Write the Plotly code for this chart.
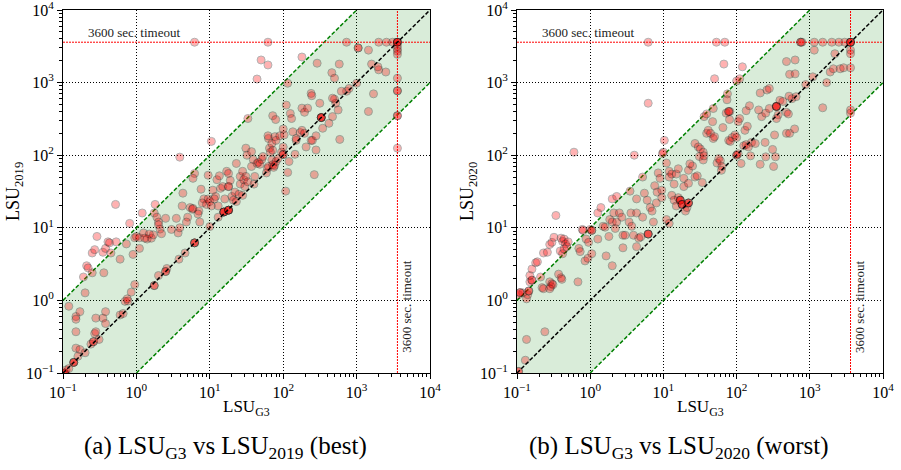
import plotly.graph_objects as go

# ---------------- data (seconds) ----------------
# Panel (a): LSU_G3 runtime vs LSU_2019 runtime
g3_a = [
    0.105, 0.105, 0.105, 0.11, 0.12, 0.14, 0.14, 0.14, 0.12, 0.15, 0.15, 0.17, 0.15, 0.15, 0.17, 0.16,
    0.2, 0.24, 0.26, 0.26, 0.27, 0.28, 0.31, 0.28, 0.35, 0.38, 0.38, 0.6, 0.7, 0.77, 0.95, 0.85,
    0.2, 0.19, 0.21, 0.22, 0.25, 0.25, 0.27, 0.29, 0.36, 0.35, 0.38, 0.41, 0.43, 0.45, 0.53, 0.6,
    0.73, 0.81, 0.9, 0.95, 1.0, 0.52, 0.75, 0.66,
    1.1, 1.25, 1.4, 1.6, 1.7, 1.5, 1.3, 1.2, 1.1, 1.75, 1.9, 2.0, 2.1, 2.0, 2.5, 1.75, 1.75, 2.0, 2.6, 2.5,
    2.5, 3.0, 3.5, 3.7, 3.9, 3.8, 3.9, 4.3, 4.6, 4.2,
    5, 4.8, 5.4, 5.8, 5.9, 6.2, 5.9, 6.2, 6.2, 6.2, 7.1, 6.9, 7.3, 7.6, 8.3, 7.9, 9, 9.5, 10, 10.5,
    9.5, 10, 10.5, 1.8, 2.2,
    11, 12, 11.5, 13, 12.5, 13.5, 14, 15, 15.5, 15.5, 15.5, 15.5, 18, 18, 18, 18, 16, 17, 18, 18,
    18, 19, 20, 21, 22, 23, 25, 26, 26, 28,
    29, 31, 30, 33, 31, 32, 33, 37, 39, 37, 41, 44, 46, 48, 51, 53, 59, 61, 63, 65,
    67, 70, 72, 74, 76, 63, 70, 62, 72, 77,
    80, 90, 80, 85, 95, 100, 100, 100, 103, 100, 72, 79, 110, 108, 115, 13, 23, 28, 40,
    120, 125, 130, 145, 150, 135, 150, 180, 170, 180, 195, 205, 195, 215, 240, 250, 265, 280, 280, 240,
    245, 315, 330, 330, 330, 330, 345, 420, 470, 500,
    520, 560, 590, 730, 620, 790, 115, 180, 290, 44, 50, 62, 460, 500, 580, 470,
    1050, 1050, 1450, 1600, 2000, 2500, 1950, 1700, 1450, 1000, 6.2, 62, 730, 2000, 2550, 3100,
    3600, 3600, 3600, 3600, 3600, 3600, 3600, 3600, 3600, 3600, 3600, 3600, 3600, 3600,
]
lsu2019 = [
    0.1, 0.1, 0.1, 0.11, 0.115, 0.14, 0.14, 0.14, 0.83, 0.6, 0.55, 0.7, 0.37, 0.22, 0.21, 0.17,
    0.19, 0.25, 0.27, 0.27, 0.35, 0.37, 0.29, 0.57, 0.57, 0.7, 0.48, 0.63, 0.97, 0.98, 1.65, 1.3,
    1.27, 2.1, 3.0, 2.8, 2.4, 4.5, 5.0, 7.6, 2.4, 4.6, 5.2, 6.4, 6.2, 4.5, 6.4, 3.7,
    6.0, 11.5, 4.3, 7.3, 7.6, 21, 1.05, 0.66,
    7.3, 8.5, 7.0, 7.2, 8.0, 8.2, 7.2, 16, 5.2, 16, 14, 12, 9.6, 11, 13.5, 1.6, 1.6, 2.2, 2.75, 2.5,
    2.5, 9.5, 13.5, 8.5, 10, 3.7, 94, 30, 4.5, 20,
    14, 12, 19, 18, 18.5, 56, 48, 6.2, 6.2, 6.2, 17, 15.5, 12, 34, 25, 22, 21, 25, 23, 20,
    53, 10.4, 155, 21, 8.3,
    33, 27, 25, 20, 46, 52, 35, 37, 16.5, 16.5, 16.5, 16.5, 17.5, 17.5, 17.5, 17.5, 25, 60, 56, 37,
    37, 45, 27, 24, 31, 77, 29, 40, 51, 60,
    46, 51, 37, 43, 125, 100, 320, 112, 87, 70, 51, 77, 80, 75, 87, 96, 57, 66, 70, 125,
    110, 86, 74, 68, 72, 170, 145, 185, 117, 180,
    160, 185, 82, 90, 110, 102, 102, 130, 190, 230, 350, 310, 490, 32, 58, 14, 23, 28, 40,
    82, 375, 320, 103, 160, 210, 170, 445, 205, 220, 200, 130, 390, 445, 160, 160, 54, 118, 185, 710,
    660, 520, 330, 330, 330, 330, 235, 275, 340, 590,
    520, 420, 165, 760, 760, 830, 980, 2250, 1850, 1120, 2050, 1750, 1370, 1150, 1800, 610,
    3000, 3000, 2800, 1800, 1500, 1400, 1650, 700, 400, 980, 3600, 3600, 3600, 3600, 3600, 3600,
    3600, 3600, 3600, 3600, 3200, 2900, 2700, 2450, 1150, 770, 770, 350, 350, 125,
]

# Panel (b): LSU_G3 runtime vs LSU_2020 runtime
g3_b = [
    0.105, 0.105, 0.13, 0.135, 0.24, 0.105, 0.12, 0.11, 0.11, 0.135, 0.14, 0.145, 0.145, 0.15, 0.16,
    0.16, 0.15, 0.21, 0.22, 0.23, 0.18, 0.19, 0.16, 0.23, 0.26, 0.28, 0.3, 0.32, 0.34, 0.28,
    0.3, 0.29, 0.31, 0.28, 0.37, 0.4, 0.41, 0.39, 0.42, 0.4, 0.42, 0.44, 0.46, 0.48, 0.44,
    0.5, 0.6, 0.68, 0.78, 0.8, 0.7, 0.73, 0.85, 0.93, 1.05, 0.88, 0.95, 1.0, 1.05, 1.05,
    1.27, 1.4, 1.27, 1.5, 1.6, 1.65, 1.8, 2.0, 1.85, 2.0, 2.2, 2.0, 2.3, 2.1, 2.3,
    2.5, 2.7, 2.8, 2.8, 3.0, 3.4, 3.6, 3.7, 3.9, 4.3, 4.0, 3.5, 4.3, 4.3, 4.6,
    4.9, 5.2, 5.5, 6.0, 6.6, 7.0, 7.3, 5.2, 6.2, 6.2, 6.2, 6.2, 6.2, 7.6,
    8.2, 8.0, 8.5, 9.0, 9.5, 9.5, 9.7, 10, 10.3, 11, 12, 11, 12,
    12, 13, 14, 15, 16, 13, 14, 15, 16, 17, 17, 17, 18, 18, 18,
    20, 21, 22, 22, 22, 19, 19, 22, 22, 25, 23, 27, 29, 27, 30,
    32, 35, 31, 35, 34, 36, 39, 41, 44, 47, 48, 50, 36, 39, 48,
    50, 54, 57, 60, 63, 62, 53, 69, 67, 75, 74, 72, 81, 78, 78,
    80, 65, 78, 82, 87, 95, 100, 100, 100, 105, 115, 100, 110, 105, 110, 120,
    125, 135, 145, 160, 130, 140, 135, 150, 155, 180, 210, 245, 250, 200, 220,
    250, 280, 210, 260, 280, 330, 310, 320, 340, 350, 350, 350, 350, 370, 350,
    390, 430, 480, 510, 480, 530, 480, 630, 530, 630, 520, 570, 650, 620, 750, 750, 780, 880,
    1100, 1150, 1150, 1500, 2000, 2500, 3000, 1500, 1700, 1900, 2100, 2200, 2600, 2900,
    3600, 3600, 3600, 3600, 3600, 3600, 3600, 3600, 3600,
]
lsu2020 = [
    0.105, 0.105, 0.15, 0.29, 0.37, 1.2, 1.27, 1.28, 1.28, 1.05, 1.2, 1.35, 1.35, 1.8, 1.9,
    1.9, 2.2, 2.1, 1.5, 1.45, 3.3, 3.4, 2.7, 4.5, 4.6, 5.9, 6.3, 7.4, 14.8, 1.8,
    1.7, 1.55, 1.65, 1.45, 2.3, 2.05, 1.95, 4.8, 4.4, 7.2, 6.5, 7.0, 6.0, 5.5, 5.1,
    6.4, 110, 1.8, 9.5, 9.2, 5.2, 4.7, 3.5, 3.8, 4.4, 7, 6.3, 9.5, 9.2, 9.2,
    16, 19, 7, 10.5, 10.2, 4.1, 7.6, 3.0, 13, 12, 9.8, 25, 27, 16, 12,
    16, 14, 7.9, 5.3, 7.9, 12, 16, 10.5, 7.9, 5.5, 100, 32, 25, 16, 7.2,
    7.5, 14, 30, 24, 19, 17, 12, 50, 8.2, 8.2, 8.2, 520, 3600, 38,
    31, 22, 57, 48, 33, 26, 105, 110, 160, 78, 60, 13, 11.5,
    50, 55, 40, 55, 65, 28, 24, 20, 26, 24, 24, 24, 21, 21, 21,
    17, 19, 22, 22, 22, 48, 37, 41, 62, 71, 76, 50, 52, 145, 130,
    122, 110, 96, 86, 42, 98, 200, 220, 200, 290, 440, 1130, 340, 370, 170,
    180, 78, 90, 84, 70, 62, 3600, 3600, 1800, 700, 580, 380, 400, 400, 400,
    310, 240, 160, 155, 175, 190, 175, 100, 100, 105, 77, 1050, 1130, 290, 320, 1650,
    135, 140, 130, 150, 220, 250, 410, 480, 98, 145, 75, 150, 95, 420, 340,
    380, 440, 720, 790, 830, 190, 120, 70, 95, 470, 470, 470, 470, 360, 320,
    570, 550, 390, 370, 200, 200, 1950, 2050, 1300, 1320, 650, 600, 640, 230, 3600, 3600, 3600, 940,
    1200, 2800, 3600, 3600, 3600, 3600, 3600, 450, 1000, 1400, 1550, 2500, 1550, 1600,
    3600, 3600, 3600, 3600, 2800, 2500, 1600, 420, 380,
]

tick_vals = [0.1, 1, 10, 100, 1000, 10000]
tick_text = ["10<sup>−1</sup>", "10<sup>0</sup>", "10<sup>1</sup>",
             "10<sup>2</sup>", "10<sup>3</sup>", "10<sup>4</sup>"]
AXIS_MIN, AXIS_MAX = 0.1, 10000
BAND = 10          # factor-of-10 band
TIMEOUT = 3600     # seconds

panel_labels = ["LSU<sub>2019</sub>", "LSU<sub>2020</sub>"]
x_label = "LSU<sub>G3</sub>"
captions = ["(a) LSU<sub>G3</sub> vs LSU<sub>2019</sub> (best)",
            "(b) LSU<sub>G3</sub> vs LSU<sub>2020</sub> (worst)"]

FONT = "Liberation Serif, Times New Roman, serif"

fig = go.Figure()


def add_panel(xs, ys, xa, ya):
    # green band
    fig.add_trace(go.Scatter(
        x=[AXIS_MIN, AXIS_MAX / BAND, AXIS_MAX, AXIS_MAX, AXIS_MIN * BAND, AXIS_MIN],
        y=[AXIS_MIN * BAND, AXIS_MAX, AXIS_MAX, AXIS_MAX / BAND, AXIS_MIN, AXIS_MIN],
        fill="toself", fillcolor="rgba(0,128,0,0.15)", line=dict(width=0),
        mode="lines", hoverinfo="skip", xaxis=xa, yaxis=ya))
    # band edges
    fig.add_trace(go.Scatter(x=[AXIS_MIN, AXIS_MAX / BAND], y=[AXIS_MIN * BAND, AXIS_MAX],
                             mode="lines", line=dict(color="#008000", width=1.5, dash="4px,2px"),
                             xaxis=xa, yaxis=ya))
    fig.add_trace(go.Scatter(x=[AXIS_MIN * BAND, AXIS_MAX], y=[AXIS_MIN, AXIS_MAX / BAND],
                             mode="lines", line=dict(color="#008000", width=1.5, dash="4px,2px"),
                             xaxis=xa, yaxis=ya))
    # timeout lines
    fig.add_trace(go.Scatter(x=[AXIS_MIN, AXIS_MAX], y=[TIMEOUT, TIMEOUT], mode="lines",
                             line=dict(color="red", width=1, dash="2px,1px"), xaxis=xa, yaxis=ya))
    fig.add_trace(go.Scatter(x=[TIMEOUT, TIMEOUT], y=[AXIS_MIN, AXIS_MAX], mode="lines",
                             line=dict(color="red", width=1, dash="2px,1px"), xaxis=xa, yaxis=ya))
    # points
    fig.add_trace(go.Scatter(x=xs, y=ys, mode="markers",
                             marker=dict(size=8, color="red", opacity=0.3,
                                         line=dict(color="black", width=1)),
                             xaxis=xa, yaxis=ya))
    # diagonal
    fig.add_trace(go.Scatter(x=[AXIS_MIN, AXIS_MAX], y=[AXIS_MIN, AXIS_MAX], mode="lines",
                             line=dict(color="black", width=1.5, dash="4px,2px"), xaxis=xa, yaxis=ya))


add_panel(g3_a, lsu2019, "x", "y")
add_panel(g3_b, lsu2020, "x2", "y2")

minor_vals = [k * 10.0 ** e for e in range(-1, 4) for k in range(2, 10)]


def axis_style(domain, anchor):
    return dict(
        type="log", range=[-1, 4], domain=domain, anchor=anchor, automargin=False,
        tickvals=tick_vals, ticktext=tick_text, ticks="outside", ticklen=5, tickcolor="black",
        tickfont=dict(family=FONT, size=16, color="black"), ticklabeloverflow="allow",
        showline=True, linecolor="black", linewidth=1, mirror=True,
        showgrid=True, gridcolor="black", griddash="1px,2px", gridwidth=1,
        minor=dict(tickvals=minor_vals, ticks="outside", ticklen=3, tickcolor="black", showgrid=False),
    )


Y_DOM = [1 - 373 / 470, 1 - 10 / 470]
XA_DOM = [63 / 901, 430 / 901]
XB_DOM = [517 / 901, 883 / 901]

fig.update_layout(
    template="none",
    width=901, height=470, margin=dict(l=0, r=0, t=0, b=0, autoexpand=False),
    paper_bgcolor="white", plot_bgcolor="white", showlegend=False,
    font=dict(family=FONT, color="black"),
    xaxis=axis_style(XA_DOM, "y"), yaxis=axis_style(Y_DOM, "x"),
    xaxis2=axis_style(XB_DOM, "y2"), yaxis2=axis_style(Y_DOM, "x2"),
)

ann = []
for i, (xd, xr, yr) in enumerate([(XA_DOM, "x", "y"), (XB_DOM, "x2", "y2")]):
    cx = (xd[0] + xd[1]) / 2
    ann.append(dict(text=x_label, x=cx, y=1 - 408 / 470, xref="paper", yref="paper",
                    xanchor="center", yanchor="middle", showarrow=False, font=dict(size=17)))
    ann.append(dict(text=panel_labels[i], x=(xd[0] * 901 - 48) / 901, y=1 - 192 / 470,
                    xref="paper", yref="paper", xanchor="center", yanchor="middle",
                    textangle=-90, showarrow=False, font=dict(size=18)))
    ann.append(dict(text="3600 sec. timeout", x=0.062, y=0.913, xref=xr + " domain",
                    yref=yr + " domain", xanchor="left", yanchor="bottom", showarrow=False,
                    font=dict(size=13, color="#222")))
    ann.append(dict(text="3600 sec. timeout", x=0.937, y=0.182, xref=xr + " domain",
                    yref=yr + " domain", xanchor="center", yanchor="middle", textangle=-90,
                    showarrow=False, font=dict(size=13, color="#222")))
ann.append(dict(text=captions[0], x=225 / 901, y=1 - 447 / 470, xref="paper", yref="paper",
                xanchor="center", yanchor="middle", showarrow=False, font=dict(size=25)))
ann.append(dict(text=captions[1], x=678 / 901, y=1 - 447 / 470, xref="paper", yref="paper",
                xanchor="center", yanchor="middle", showarrow=False, font=dict(size=25)))
fig.update_layout(annotations=ann)

fig.write_html("out.html", config={"displayModeBar": False},
               post_script="document.body.style.margin='0px';")
